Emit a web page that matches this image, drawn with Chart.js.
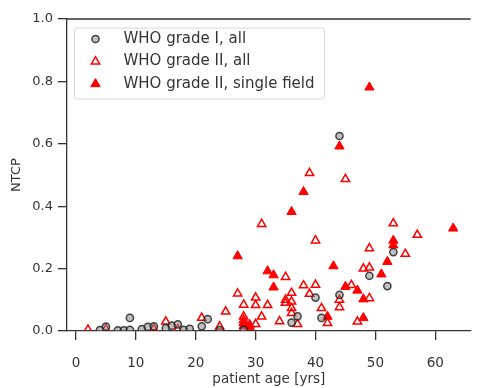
<!DOCTYPE html>
<html>
<head>
<meta charset="utf-8">
<script src="https://cdn.jsdelivr.net/npm/chart.js@4.4.1/dist/chart.umd.min.js"></script>
<style>
  html, body { margin: 0; padding: 0; background: #fff; overflow: hidden; }
  #wrap { width: 477px; height: 388px; }
</style>
</head>
<body>
<div id="wrap"><canvas id="ntcp-chart" width="477" height="388"></canvas></div>
<script>
// WHO grade I, all
const gradeOneAge  = [4, 5, 7, 8, 9, 9, 11, 12, 13, 15, 16, 17, 18, 19, 21, 22, 24, 28, 36, 37, 40, 41, 44, 44, 49, 52, 53];
const gradeOneNtcp = [0.003, 0.014, 0.002, 0.002, 0.004, 0.042, 0.006, 0.013, 0.015, 0.009, 0.017, 0.021, 0.004, 0.007, 0.015, 0.038, 0.003, 0.004, 0.027, 0.047, 0.107, 0.042, 0.116, 0.625, 0.177, 0.144, 0.253];

// WHO grade II, all
const gradeTwoAge  = [2, 5, 13, 15, 17, 21, 24, 25, 27, 28, 28, 28, 30, 30, 30, 31, 31, 32, 34, 35, 35, 35, 36, 36, 36, 36, 37, 38, 39, 39, 40, 40, 41, 42, 44, 44, 45, 46, 47, 48, 49, 49, 49, 53, 55, 57];
const gradeTwoNtcp = [0.004, 0.006, 0.007, 0.03, 0.005, 0.042, 0.014, 0.062, 0.12, 0.084, 0.046, 0.035, 0.107, 0.083, 0.022, 0.343, 0.046, 0.083, 0.031, 0.173, 0.1, 0.09, 0.122, 0.094, 0.073, 0.057, 0.022, 0.146, 0.506, 0.119, 0.29, 0.148, 0.073, 0.025, 0.1, 0.076, 0.487, 0.147, 0.03, 0.2, 0.265, 0.203, 0.105, 0.345, 0.247, 0.308];

// WHO grade II, single field
const singleFieldAge  = [27, 28, 28, 29, 29, 32, 33, 33, 36, 38, 42, 43, 44, 45, 47, 48, 48, 49, 51, 52, 53, 53, 63];
const singleFieldNtcp = [0.24, 0.026, 0.016, 0.02, 0.013, 0.192, 0.179, 0.14, 0.382, 0.446, 0.046, 0.208, 0.592, 0.142, 0.13, 0.102, 0.042, 0.781, 0.182, 0.222, 0.29, 0.275, 0.329];

const xTicks = [0, 10, 20, 30, 40, 50, 60];
const yTicks = [0, 0.2, 0.4, 0.6, 0.8, 1.0];
const seriesLabels = ['WHO grade I, all', 'WHO grade II, all', 'WHO grade II, single field'];

const toPoints = (xs, ys) => xs.map((x, i) => ({ x: x, y: ys[i] }));

const FONT = '"DejaVu Sans", "Liberation Sans", sans-serif';
const INK = '#333';

// legend drawn inside the plot, matplotlib style
const insetLegend = {
  id: 'insetLegend',
  afterDatasetsDraw(chart) {
    const { ctx, chartArea } = chart;
    const x = chartArea.left + 7.5, y = chartArea.top + 9, w = 250, h = 71;
    ctx.save();
    ctx.beginPath();
    if (ctx.roundRect) ctx.roundRect(x, y, w, h, 3); else ctx.rect(x, y, w, h);
    ctx.fillStyle = 'rgba(255,255,255,0.8)';
    ctx.fill();
    ctx.strokeStyle = '#d6d6d6';
    ctx.lineWidth = 1;
    ctx.stroke();
    ctx.font = '15px ' + FONT;
    ctx.textBaseline = 'middle';
    chart.data.datasets.forEach((ds, i) => {
      const cy = y + 11 + i * 22.5;
      ctx.fillStyle = ds.backgroundColor;
      ctx.strokeStyle = ds.borderColor;
      ctx.lineWidth = ds.borderWidth;
      Chart.helpers.drawPoint(ctx, { pointStyle: ds.pointStyle, radius: ds.pointRadius, borderWidth: ds.borderWidth }, x + 21, cy);
      ctx.fillStyle = INK;
      ctx.fillText(ds.label, x + 49, cy);
    });
    ctx.restore();
  }
};

// top spine (the right one falls outside the window)
const topSpine = {
  id: 'topSpine',
  afterDraw(chart) {
    const { ctx, chartArea } = chart;
    ctx.save();
    ctx.strokeStyle = INK;
    ctx.lineWidth = 1.3;
    ctx.beginPath();
    ctx.moveTo(chartArea.left, chartArea.top);
    ctx.lineTo(chartArea.right, chartArea.top);
    ctx.stroke();
    ctx.restore();
  }
};

new Chart(document.getElementById('ntcp-chart'), {
  type: 'scatter',
  data: {
    datasets: [
      {
        label: seriesLabels[0],
        data: toPoints(gradeOneAge, gradeOneNtcp),
        pointStyle: 'circle',
        pointRadius: 3.6,
        backgroundColor: 'rgba(128,128,128,0.5)',
        borderColor: 'rgba(35,35,35,0.85)',
        borderWidth: 1.5
      },
      {
        label: seriesLabels[1],
        data: toPoints(gradeTwoAge, gradeTwoNtcp),
        pointStyle: 'triangle',
        pointRadius: 4.8,
        backgroundColor: 'rgba(255,255,255,0)',
        borderColor: '#ff0000',
        borderWidth: 1.5
      },
      {
        label: seriesLabels[2],
        data: toPoints(singleFieldAge, singleFieldNtcp),
        pointStyle: 'triangle',
        pointRadius: 5.4,
        backgroundColor: '#ff0000',
        borderColor: '#ff0000',
        borderWidth: 1
      }
    ]
  },
  options: {
    responsive: false,
    animation: false,
    events: [],
    layout: { padding: { top: 19, right: 0, left: 0, bottom: 0 } },
    plugins: {
      legend: { display: false },
      tooltip: { enabled: false }
    },
    scales: {
      x: {
        type: 'linear',
        min: -1.5,
        max: 65.9,
        afterBuildTicks: (scale) => { scale.ticks = xTicks.map(v => ({ value: v })); },
        afterFit: (scale) => { scale.height = 57; },
        grid: { drawOnChartArea: false, drawTicks: true, tickLength: 9, color: INK, lineWidth: 1.3 },
        border: { color: INK, width: 1.3 },
        ticks: { color: INK, font: { family: FONT, size: 13.5 }, padding: 15, maxRotation: 0 },
        title: { display: true, text: 'patient age [yrs]', color: INK, font: { family: FONT, size: 13.5 }, padding: { top: 0, bottom: 0 } }
      },
      y: {
        type: 'linear',
        min: 0,
        max: 1.0,
        afterBuildTicks: (scale) => { scale.ticks = yTicks.map(v => ({ value: v })); },
        afterFit: (scale) => { scale.width = 67; },
        grid: { drawOnChartArea: false, drawTicks: true, tickLength: 9, color: INK, lineWidth: 1.3 },
        border: { color: INK, width: 1.3 },
        ticks: { color: INK, font: { family: FONT, size: 13 }, padding: 5, callback: (v) => v.toFixed(1) },
        title: { display: true, text: 'NTCP', color: INK, font: { family: FONT, size: 13 }, padding: { top: 9, bottom: 0 } }
      }
    }
  },
  plugins: [insetLegend, topSpine]
});
</script>
</body>
</html>
